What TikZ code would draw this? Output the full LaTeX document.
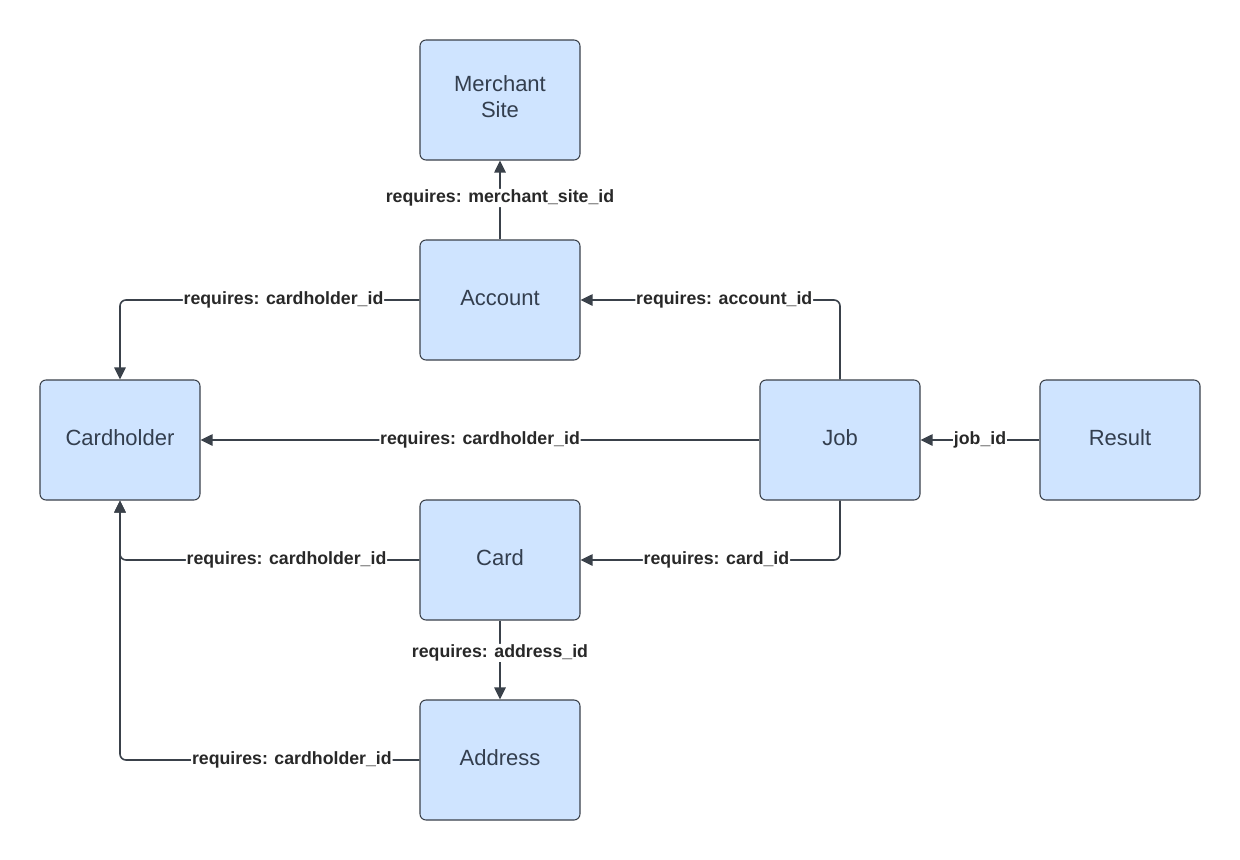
\documentclass[tikz,border=0pt]{standalone}
\usepackage{fontspec}
\setmainfont{Liberation Sans}
\usetikzlibrary{arrows.meta}
\definecolor{boxfill}{RGB}{207,228,255}
\definecolor{boxline}{RGB}{58,65,74}
\definecolor{boxtext}{RGB}{51,62,78}
\definecolor{linec}{RGB}{58,65,74}
\definecolor{lbltext}{RGB}{40,40,40}
\begin{document}
\begin{tikzpicture}[x=0.75pt,y=-0.75pt,
  entity/.style={draw=boxline,fill=boxfill,line width=0.8pt,rounded corners=4.5pt,
    minimum width=120pt,minimum height=90pt,inner sep=0pt,align=center,
    text=boxtext,font=\fontsize{16.5}{19.5}\selectfont},
  etext/.style={text=boxtext,align=center,inner sep=0pt,font=\fontsize{16.5}{19.5}\selectfont},
  conn/.style={draw=linec,line width=1.2pt,rounded corners=4.5pt,
    -{Triangle[length=9pt,width=8.5pt]}},
  lbl/.style={fill=white,inner sep=0.6pt,text=lbltext,
    font=\bfseries\fontsize{13.3}{15}\selectfont}]
\useasboundingbox[fill=white] (0,0) rectangle (1240,860);
\node[entity] (ms) at (500,100) {};
\node[etext] (mst) at (500,97) {Merchant\\Site};
\node[entity] (acc) at (500,300) {};
\node[etext] (acct) at (500,298) {Account};
\node[entity] (ch) at (120,440) {};
\node[etext] (cht) at (120,438) {Cardholder};
\node[entity] (job) at (840,440) {};
\node[etext] (jobt) at (840,438) {Job};
\node[entity] (res) at (1120,440) {};
\node[etext] (rest) at (1120,438) {Result};
\node[entity] (card) at (500,560) {};
\node[etext] (cardt) at (500,558) {Card};
\node[entity] (addr) at (500,760) {};
\node[etext] (addrt) at (500,758) {Address};

\draw[conn] (acc.north) -- node[lbl,pos=0.525] {requires: merchant\_site\_id} (ms.south);
\draw[conn] (acc.west) -| node[lbl,pos=0.227] {requires: cardholder\_id} (ch.north);
\draw[conn] (job.north) |- node[lbl,pos=0.723] {requires: account\_id} (acc.east);
\draw[conn] (job.west) -- node[lbl,pos=0.5] {requires: cardholder\_id} (ch.east);
\draw[conn] (res.west) -- node[lbl,pos=0.5] {job\_id} (job.east);
\draw[conn] (job.south) |- node[lbl,pos=0.738] {requires: card\_id} (card.east);
\draw[conn] (card.west) -| node[lbl,pos=0.222] {requires: cardholder\_id} (ch.south);
\draw[conn] (card.south) -- node[lbl,pos=0.41] {requires: address\_id} (addr.north);
\draw[conn] (addr.west) -| node[lbl,pos=0.213] {requires: cardholder\_id} (ch.south);
\end{tikzpicture}
\end{document}
